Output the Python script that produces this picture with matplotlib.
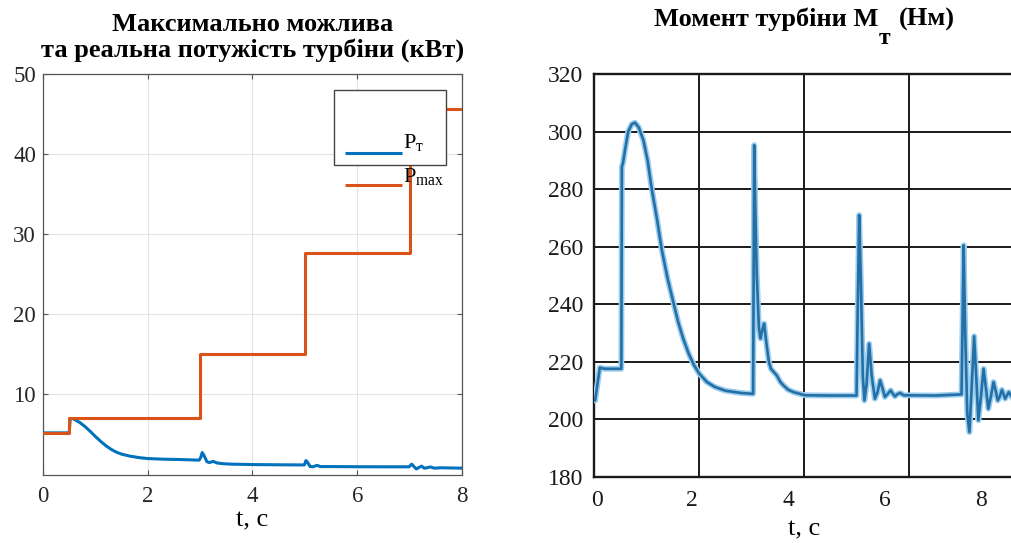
import matplotlib
matplotlib.use("Agg")
import matplotlib.pyplot as plt
from matplotlib.patches import Rectangle

plt.rcParams['font.family'] = ['Liberation Serif', 'DejaVu Serif']
plt.rcParams['mathtext.fontset'] = 'custom'
plt.rcParams['mathtext.rm'] = 'Liberation Serif'
plt.rcParams['mathtext.bf'] = 'Liberation Serif:bold'
plt.rcParams['mathtext.it'] = 'Liberation Serif:italic'

# --- potuzhnist: P_max (stupeni) ta realna P_t ---
t_pmax = [0.0, 0.5, 0.5, 3.0, 3.0, 5.0, 5.0, 7.0, 7.0, 8.0]
p_max = [5.2, 5.2, 7.1, 7.1, 15.0, 15.0, 27.6, 27.6, 45.6, 45.6]

t_pt = [0.0, 0.5, 0.52, 0.58, 0.7, 0.8, 0.9, 1.0, 1.1, 1.2, 1.3, 1.4, 1.5,
        1.66, 1.85, 2.0, 2.3, 2.6, 2.98, 3.01, 3.04, 3.08, 3.13, 3.18, 3.25,
        3.32, 3.45, 3.6, 4.0, 4.5, 4.99, 5.02, 5.05, 5.1, 5.16, 5.23, 5.3,
        5.45, 6.0, 6.5, 6.99, 7.04, 7.09, 7.13, 7.18, 7.23, 7.28, 7.33, 7.4,
        7.47, 7.6, 8.0]
p_t = [5.2, 5.2, 7.0, 6.95, 6.5, 6.0, 5.4, 4.75, 4.15, 3.6, 3.15, 2.8, 2.55,
       2.3, 2.1, 2.0, 1.92, 1.88, 1.8, 2.1, 2.75, 2.3, 1.6, 1.5, 1.65,
       1.45, 1.35, 1.3, 1.25, 1.22, 1.2, 1.75, 1.55, 1.0, 0.98, 1.15, 1.0,
       1.0, 0.98, 0.97, 0.97, 1.3, 0.95, 0.7, 0.9, 1.05, 0.8, 0.85, 0.95,
       0.8, 0.85, 0.8]

# --- moment turbiny M_t ---
t_m = [0.0, 0.02, 0.11, 0.2, 0.52, 0.53, 0.55, 0.59, 0.65, 0.72, 0.78, 0.85,
       0.94, 1.02, 1.1, 1.2, 1.29, 1.4, 1.5, 1.6, 1.7, 1.8, 1.9, 2.0, 2.15,
       2.3, 2.5, 2.8, 3.03, 3.04, 3.05, 3.07, 3.1, 3.14, 3.17, 3.21, 3.24,
       3.28, 3.33, 3.37, 3.48, 3.55, 3.61, 3.7, 3.8, 4.02, 4.5, 5.0, 5.02,
       5.05, 5.08, 5.12, 5.15, 5.19, 5.24, 5.29, 5.35, 5.4, 5.45, 5.5, 5.54,
       5.6, 5.65, 5.69, 5.73, 5.78, 5.83, 5.9, 6.5, 7.0, 7.02, 7.04, 7.07,
       7.11, 7.15, 7.19, 7.24, 7.28, 7.32, 7.37, 7.42, 7.47, 7.51, 7.56, 7.61,
       7.65, 7.69, 7.73, 7.77, 7.8, 7.83, 7.87, 7.9, 7.96]
m_t = [206.6, 206.6, 218.0, 217.6, 217.6, 287.8, 289.0, 293.6, 300.0, 302.6,
       303.1, 301.5, 297.0, 290.0, 280.0, 269.5, 259.0, 249.0, 241.5, 234.0,
       228.0, 223.0, 219.0, 216.0, 213.0, 211.3, 210.0, 209.2, 208.9, 250.0,
       295.3, 275.0, 250.0, 232.0, 228.1, 231.5, 233.3, 227.0, 220.0, 217.6,
       215.3, 213.0, 211.8, 210.3, 209.5, 208.4, 208.3, 208.3, 235.0, 271.0,
       250.0, 215.0, 206.6, 212.0, 226.3, 215.0, 207.2, 209.5, 213.6, 210.5,
       207.8, 209.0, 210.1, 209.0, 208.0, 208.8, 209.2, 208.4, 208.3, 208.7,
       235.0, 260.5, 230.0, 202.0, 195.6, 210.0, 228.9, 215.0, 199.7, 208.0,
       217.6, 210.0, 203.7, 208.0, 213.0, 210.0, 206.6, 208.0, 210.3, 208.8,
       207.2, 208.5, 209.5, 207.8]

blue = '#0072BD'
orange = '#D95319'

fig = plt.figure(figsize=(10.12, 5.43), dpi=100)

# ---------------- left: power ----------------
ax1 = fig.add_axes([0.0425, 0.126, 0.414, 0.7385])
ax1.plot(t_pt, p_t, color=blue, lw=2.2, zorder=3)
ax1.plot(t_pmax, p_max, color=orange, lw=2.2, zorder=3)
ax1.set_xlim(0, 8)
ax1.set_ylim(0, 50)
ax1.set_xticks([0, 2, 4, 6, 8])
ax1.set_yticks([10, 20, 30, 40, 50])
ax1.grid(True, color='#e3e3e3', lw=0.8)
ax1.set_axisbelow(True)
ax1.tick_params(direction='in', top=True, right=True, length=3.5,
                width=0.8, color='#555555', labelsize=16.5, labelcolor='#262626')
ax1.tick_params(axis='x', pad=8)
ax1.tick_params(axis='y', pad=5)
for sp in ax1.spines.values():
    sp.set_color('#555555')
    sp.set_linewidth(0.9)
ax1.set_xlabel('t, c', fontsize=19, labelpad=2)
ax1.set_title('Максимально можлива\nта реальна потужість турбіни (кВт)',
              fontsize=19, fontweight='bold', linespacing=1.14, pad=12)

# legend box (opaque, sits over the curves) and entries
ax1.add_patch(Rectangle((0.6945, 0.773), 0.2675, 0.187, transform=ax1.transAxes,
                        facecolor='white', edgecolor='#444444', lw=1.0, zorder=5))
ax1.plot([0.7208, 0.8568], [0.803, 0.803], transform=ax1.transAxes,
         color=blue, lw=2.2, zorder=6, solid_capstyle='butt')
ax1.plot([0.7208, 0.8568], [0.723, 0.723], transform=ax1.transAxes,
         color=orange, lw=2.2, zorder=6, solid_capstyle='butt')
ax1.text(0.859, 0.815, r'P$_{\mathrm{т}}$', transform=ax1.transAxes,
         fontsize=16, va='baseline', zorder=7)
ax1.text(0.859, 0.730, r'P$_{\mathrm{max}}$', transform=ax1.transAxes,
         fontsize=16, va='baseline', zorder=7)

# ---------------- right: torque ----------------
ax2 = fig.add_axes([0.587, 0.1215, 0.415, 0.7422])
ax2.plot(t_m, m_t, color='#9bcdee', lw=4.2, zorder=3, solid_joinstyle='round')
ax2.plot(t_m, m_t, color='#2470a6', lw=1.9, zorder=4, solid_joinstyle='round')
ax2.set_xlim(0, 8)
ax2.set_ylim(180, 320)
ax2.set_xticks([0, 2, 4, 6, 8])
ax2.set_xticklabels([])
ax2.set_xticks([0.06, 1.87, 3.71, 5.54, 7.37], ['0', '2', '4', '6', '8'],
               minor=True)
ax2.set_yticks([180, 200, 220, 240, 260, 280, 300, 320])
ax2.grid(True, which='major', color='#1a1a1a', lw=1.4)
ax2.set_axisbelow(True)
ax2.tick_params(which='both', length=0, labelsize=17, colors='#1a1a1a')
ax2.tick_params(axis='x', which='both', pad=9)
ax2.tick_params(axis='y', labelsize=17, pad=8)
for name, sp in ax2.spines.items():
    sp.set_color('#1a1a1a')
    sp.set_linewidth(1.7)
ax2.spines['right'].set_visible(False)
ax2.set_xlabel('t, c', fontsize=19, labelpad=6)

# title with a full-size lowered subscript
fig.text(878 / 1012, 1 - 26 / 543, 'Момент турбіни M', fontsize=19,
         fontweight='bold', ha='right', va='baseline')
fig.text(879 / 1012, 1 - 44 / 543, 'т', fontsize=17,
         fontweight='bold', ha='left', va='baseline')
fig.text(899 / 1012, 1 - 26 / 543, '(Нм)', fontsize=19,
         fontweight='bold', ha='left', va='baseline')

fig.savefig('out.png', dpi=100)
